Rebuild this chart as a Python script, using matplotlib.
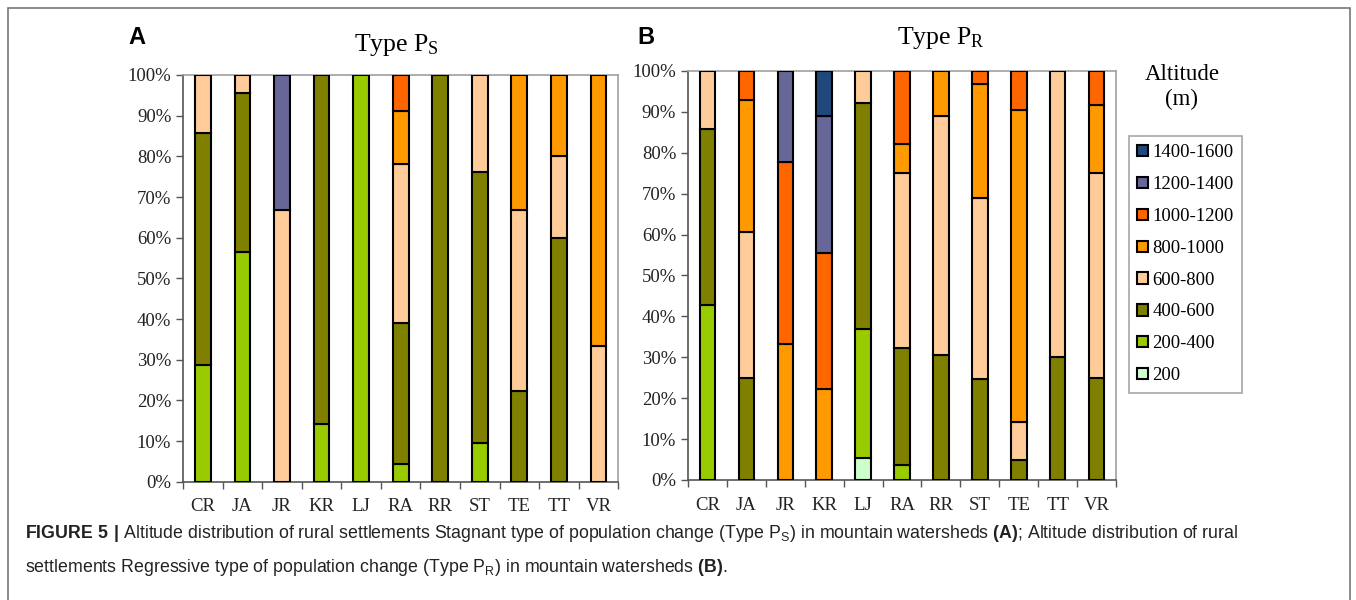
import numpy as np
import matplotlib
matplotlib.use('Agg')
from matplotlib import pyplot as plt
from matplotlib.patches import Patch, Rectangle

plt.rcParams['font.family'] = ['Liberation Serif', 'DejaVu Serif']
plt.rcParams['mathtext.fontset'] = 'custom'
plt.rcParams['mathtext.rm'] = 'Liberation Sans'
plt.rcParams['mathtext.bf'] = 'Liberation Sans:bold'

sites = ['CR', 'JA', 'JR', 'KR', 'LJ', 'RA', 'RR', 'ST', 'TE', 'TT', 'VR']
classes = ['200', '200-400', '400-600', '600-800', '800-1000',
           '1000-1200', '1200-1400', '1400-1600']
colors = ['#CCFFCC', '#99CC00', '#808000', '#FFCC99', '#FF9900',
          '#FF6600', '#666699', '#1F497D']

# Type PS (panel A), % of settlements per altitude class
ps_200 = [0, 0, 0, 0, 0, 0, 0, 0, 0, 0, 0]
ps_200_400 = [28.6, 56.5, 0, 14.3, 100, 4.3, 0, 9.5, 0, 0, 0]
ps_400_600 = [57.1, 39.1, 0, 85.7, 0, 34.8, 100, 66.7, 22.2, 60, 0]
ps_600_800 = [14.3, 4.4, 66.7, 0, 0, 39.1, 0, 23.8, 44.5, 20, 33.3]
ps_800_1000 = [0, 0, 0, 0, 0, 13.0, 0, 0, 33.3, 20, 66.7]
ps_1000_1200 = [0, 0, 0, 0, 0, 8.8, 0, 0, 0, 0, 0]
ps_1200_1400 = [0, 0, 33.3, 0, 0, 0, 0, 0, 0, 0, 0]
ps_1400_1600 = [0, 0, 0, 0, 0, 0, 0, 0, 0, 0, 0]

# Type PR (panel B)
pr_200 = [0, 0, 0, 0, 5.3, 0, 0, 0, 0, 0, 0]
pr_200_400 = [42.9, 0, 0, 0, 31.6, 3.6, 0, 0, 0, 0, 0]
pr_400_600 = [42.8, 25, 0, 0, 55.2, 28.6, 30.6, 24.6, 4.8, 30, 25]
pr_600_800 = [14.3, 35.7, 0, 0, 7.9, 42.8, 58.3, 44.3, 9.5, 70, 50]
pr_800_1000 = [0, 32.1, 33.3, 22.2, 0, 7.1, 11.1, 27.8, 76.2, 0, 16.7]
pr_1000_1200 = [0, 7.2, 44.5, 33.4, 0, 17.9, 0, 3.3, 9.5, 0, 8.3]
pr_1200_1400 = [0, 0, 22.2, 33.3, 0, 0, 0, 0, 0, 0, 0]
pr_1400_1600 = [0, 0, 0, 11.1, 0, 0, 0, 0, 0, 0, 0]

ps_data = [ps_200, ps_200_400, ps_400_600, ps_600_800, ps_800_1000,
           ps_1000_1200, ps_1200_1400, ps_1400_1600]
pr_data = [pr_200, pr_200_400, pr_400_600, pr_600_800, pr_800_1000,
           pr_1000_1200, pr_1200_1400, pr_1400_1600]


def stacked(ax, data):
    x = np.arange(len(sites))
    bottom = np.zeros(len(sites))
    for vals, col in zip(data, colors):
        vals = np.array(vals, dtype=float)
        m = vals > 0
        ax.bar(x[m], vals[m], 0.4, bottom=bottom[m], color=col,
               edgecolor='black', linewidth=1.5, zorder=3)
        bottom += vals
    ax.set_xlim(-0.5, len(sites) - 0.5)
    ax.set_ylim(0, 100)
    ax.set_yticks(np.arange(0, 101, 10))
    ax.set_yticklabels(['{}%'.format(v) for v in range(0, 101, 10)])
    ax.set_xticks(np.arange(-0.5, len(sites)), labels=[])
    ax.set_xticks(x, labels=sites, minor=True)
    ax.tick_params(axis='both', which='major', direction='out', length=5,
                   color='#555555', width=1)
    ax.tick_params(axis='x', which='minor', length=0, pad=12)
    ax.tick_params(which='both', labelsize=13.5, labelcolor='#222222')
    for s in ['left', 'bottom']:
        ax.spines[s].set_color('#555555')
    for s in ['top', 'right']:
        ax.spines[s].set_color('#A0A0A0')
    for s in ax.spines.values():
        s.set_linewidth(1.2)


fig = plt.figure(figsize=(13.56, 6), dpi=100)

axA = fig.add_axes([0.135, 0.197, 0.321, 0.678])
stacked(axA, ps_data)
axB = fig.add_axes([0.5074, 0.2, 0.3156, 0.6817])
stacked(axB, pr_data)

fig.text(396 / 1356, 1 - 45 / 600, r'Type $\mathregular{P_S}$', ha='center',
         va='center', fontsize=18.5)
fig.text(941 / 1356, 1 - 38 / 600, r'Type $\mathregular{P_R}$', ha='center',
         va='center', fontsize=18.5)
fig.text(128 / 1356, 1 - 37 / 600, 'A', fontsize=17, fontweight='bold',
         family='Liberation Sans', va='center')
fig.text(637 / 1356, 1 - 37 / 600, 'B', fontsize=17, fontweight='bold',
         family='Liberation Sans', va='center')

# legend
fig.text(1182 / 1356, 1 - 87 / 600, 'Altitude\n(m)', ha='center', va='center',
         fontsize=16.5, linespacing=1.25)
handles = [Patch(facecolor=c, edgecolor='black', linewidth=1.5)
           for c in colors][::-1]
leg = fig.legend(handles, classes[::-1], loc='upper left',
                 bbox_to_anchor=(1129 / 1356, 1 - 136 / 600),
                 fontsize=13.5, frameon=True, fancybox=False,
                 handlelength=0.55, handleheight=0.55, handletextpad=0.25,
                 labelspacing=0.79, borderpad=0.45, borderaxespad=0)
leg.get_frame().set_edgecolor('#909090')
leg.get_frame().set_linewidth(1.2)

# outer frame
fig.patches.append(Rectangle((8 / 1356, -0.1), 1342 / 1356, 1.1 - 8 / 600,
                             transform=fig.transFigure, fill=False,
                             edgecolor='#777777', linewidth=1.2))

cap1 = (r'$\mathbf{FIGURE\ 5\ |}$ Altitude distribution of rural settlements '
        r'Stagnant type of population change (Type P$\mathregular{_S}$) in '
        r'mountain watersheds $\mathbf{(A)}$; Altitude distribution of rural')
cap2 = (r'settlements Regressive type of population change '
        r'(Type P$\mathregular{_R}$) in mountain watersheds $\mathbf{(B)}$.')
fig.text(25 / 1356, 1 - 533 / 600, cap1, family='Liberation Sans',
         fontsize=12.8, color='#222222', va='center')
fig.text(25 / 1356, 1 - 567 / 600, cap2, family='Liberation Sans',
         fontsize=12.8, color='#222222', va='center')

fig.savefig('out.png', dpi=100)
